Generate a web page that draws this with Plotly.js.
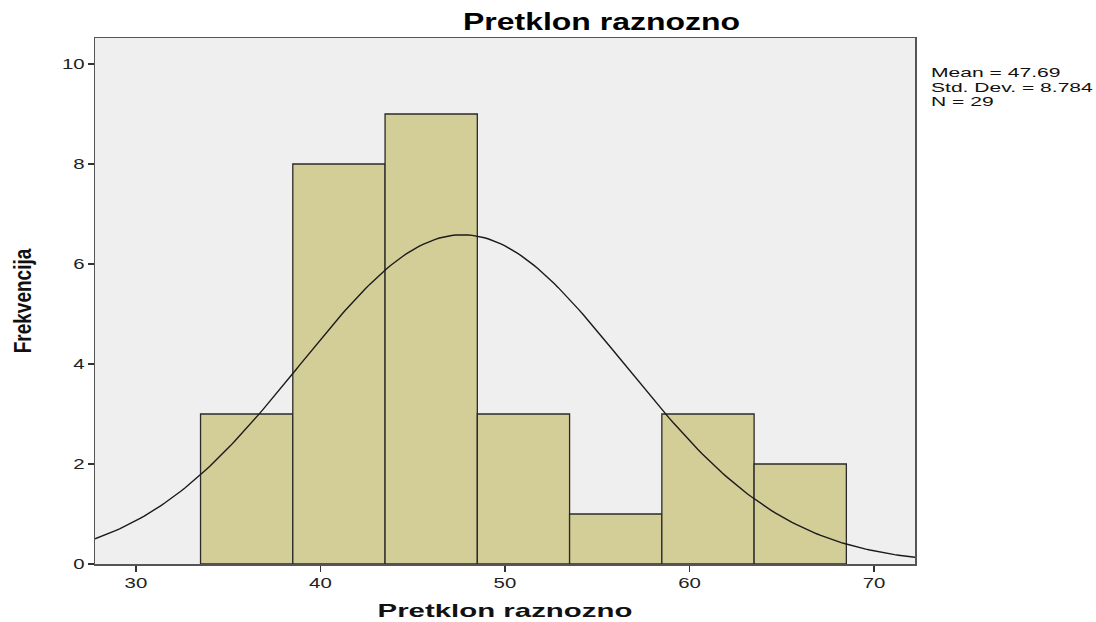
<!DOCTYPE html>
<html><head><meta charset="utf-8">
<script src="https://cdn.plot.ly/plotly-3.0.1.min.js"></script>
<style>html,body{margin:0;padding:0;background:#fff}#chart{width:1096px;height:622px}</style>
</head><body><div id="chart"></div>
<script>
const binStarts = [33.5, 38.5, 43.5, 48.5, 53.5, 58.5, 63.5];
const binWidth = 5;
const counts = [3, 8, 9, 3, 1, 3, 2];
const statMean = 47.69;
const statSD = 8.784;
const statN = 29;
const xTicks = [30, 40, 50, 60, 70];
const yTicks = [0, 2, 4, 6, 8, 10];
const statLines = ['Mean = ' + statMean.toFixed(2), 'Std. Dev. = ' + statSD.toFixed(3), 'N = ' + statN];

const barCenters = binStarts.map(s => s + binWidth / 2);

// fitted normal curve from the displayed mean / SD / N
const xMin = 27.78, xMax = 72.22;
const curveX = [], curveY = [];
for (let i = 0; i <= 200; i++) {
  const x = xMin + (xMax - xMin) * i / 200;
  const z = (x - statMean) / statSD;
  curveX.push(x);
  curveY.push(statN * binWidth * Math.exp(-0.5 * z * z) / (statSD * Math.sqrt(2 * Math.PI)));
}

const FONT = 'Liberation Sans, Arial, sans-serif';

const data = [
  {type: 'bar', x: barCenters, y: counts, width: binWidth,
   marker: {color: '#d3ce98', line: {color: '#2a2a2a', width: 1.3}}, hoverinfo: 'none'},
  {type: 'scatter', mode: 'lines', x: curveX, y: curveY,
   line: {color: '#1a1a1a', width: 1.4}, hoverinfo: 'none'}
];

const annY = [0.9335, 0.9068, 0.8802];
const layout = {
  width: 1096, height: 622,
  margin: {l: 95, r: 181, t: 38, b: 58},
  paper_bgcolor: '#ffffff', plot_bgcolor: '#efefef',
  showlegend: false,
  title: {text: '<b>Pretklon raznozno</b>', x: 0.5488, xanchor: 'center', y: 0.9646, yanchor: 'middle',
          font: {family: FONT, size: 23, color: '#000'}},
  xaxis: {range: [xMin, xMax], tickvals: xTicks, ticktext: xTicks.map(String),
          ticks: 'outside', ticklen: 6, tickwidth: 1.5, tickcolor: '#333',
          showgrid: false, zeroline: false, showline: true, linecolor: '#555', linewidth: 1.5, mirror: true,
          tickfont: {family: FONT, size: 14, color: '#222'},
          title: {text: '<b>Pretklon raznozno</b>', standoff: 14,
                  font: {family: FONT, size: 18, color: '#111'}}},
  yaxis: {range: [0, 10.52], tickvals: yTicks, ticktext: yTicks.map(String),
          ticks: 'outside', ticklen: 6, tickwidth: 1.5, tickcolor: '#333',
          showgrid: false, zeroline: false, showline: true, linecolor: '#555', linewidth: 1.5, mirror: true,
          tickfont: {family: FONT, size: 14, color: '#222'},
          title: {text: '<b>Frekvencija</b>', standoff: 34,
                  font: {family: FONT, size: 19, color: '#111'}}},
  annotations: statLines.map((t, i) => ({
    xref: 'paper', yref: 'paper', x: 1.0165, y: annY[i], xanchor: 'left', yanchor: 'middle', align: 'left',
    showarrow: false, text: t, font: {family: FONT, size: 13, color: '#111'}
  }))
};

// stretch of rendered text (the reference's text is drawn wide)
function stretch(el, sx, mode, sy) {
  sy = sy || 1;
  const bb = el.getBBox();
  const ax = mode === 'center' ? bb.x + bb.width / 2 : mode === 'right' ? bb.x + bb.width : bb.x;
  const ay = bb.y + bb.height / 2;
  const prev = el.getAttribute('transform') || '';
  el.setAttribute('transform', prev + ' translate(' + ax + ',' + ay + ') scale(' + sx + ',' + sy + ') translate(' + (-ax) + ',' + (-ay) + ')');
}
function toWidth(el, w, mode, sy) { const bb = el.getBBox(); if (bb.width > 0) stretch(el, w / bb.width, mode, sy); }

Plotly.newPlot('chart', data, layout, {displayModeBar: false, staticPlot: true}).then(gd => {
  const q = s => Array.from(gd.querySelectorAll(s));
  const t = q('.gtitle')[0]; if (t) toWidth(t, 277, 'center');
  const xt = q('.xtitle')[0]; if (xt) toWidth(xt, 255, 'center');
  const yt = q('.ytitle')[0]; if (yt) toWidth(yt, 105, 'center', 1.25);
  const xticks = q('.xtick text');
  if (xticks.length) {
    const s = 23 / xticks[0].getBBox().width;
    xticks.forEach(e => stretch(e, s, 'center'));
    q('.ytick text').forEach(e => stretch(e, s, 'right'));
  }
  const ann = q('.annotation-text');
  if (ann.length === 3) {
    const s = 162 / ann[1].getBBox().width;
    ann.forEach(e => stretch(e, s, 'left'));
  }
});
</script></body></html>
